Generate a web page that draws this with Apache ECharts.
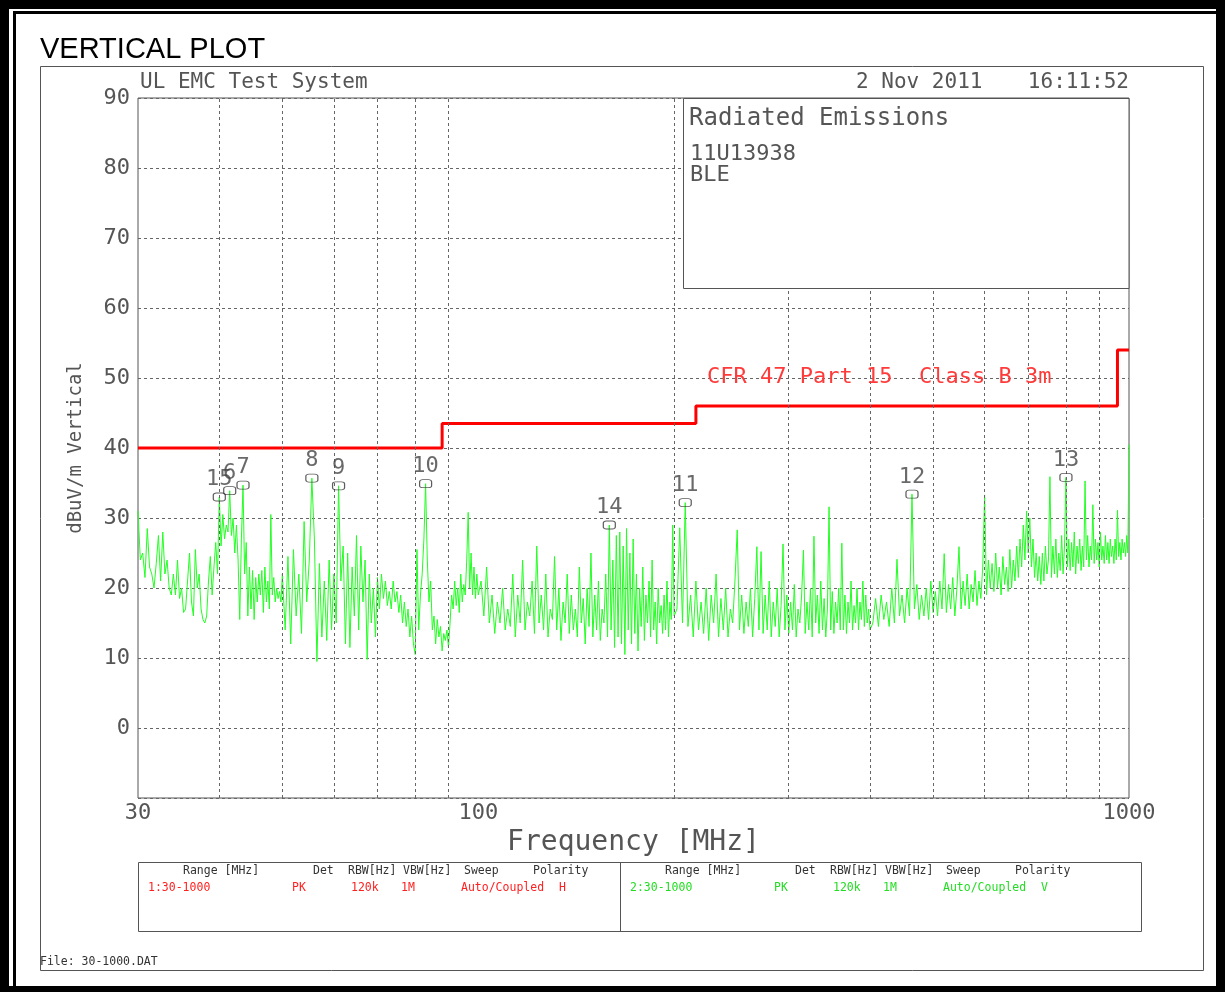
<!DOCTYPE html>
<html>
<head>
<meta charset="utf-8">
<script src="https://cdn.jsdelivr.net/npm/echarts@6/dist/echarts.min.js"></script>
<style>
html,body{margin:0;padding:0;background:#fff}
#wrap{position:relative;width:1225px;height:992px;background:#000;overflow:hidden}
.l{position:absolute}
#c{position:absolute;left:0;top:0;width:1225px;height:992px}
</style>
</head>
<body>
<div id="wrap">
  <div class="l" style="left:9px;top:9px;width:1207px;height:977px;background:#fff"></div>
  <div class="l" style="left:13px;top:11px;width:1203px;height:975px;background:#000"></div>
  <div class="l" style="left:16px;top:14px;width:1200px;height:972px;background:#fff"></div>
  <div id="c"></div>
</div>
<script>
// ---------------- DATA ----------------
// Sweep bands: start frequency [MHz], step [MHz], measured levels [dBuV/m]
const traceA_start = 30, traceA_step = 0.25;
const traceA_dB = [
  31, 24, 25, 21.5,
  28.5, 23, 22, 20,
  23.5, 27.5, 21, 28,
  22, 24, 20, 19,
  22, 19, 24, 18.5,
  20, 16.5, 17, 21,
  25, 18, 16, 25.5,
  20, 22, 17, 15.5,
  15, 16, 21, 24.5,
  19, 23, 26.5, 22,
  33, 26, 30.5, 27,
  29, 28, 33.9, 27.5,
  30, 25, 29, 24,
  15.5, 27, 34.7, 22,
  26.5, 16, 23, 17,
  22.5, 15.5, 21.5, 18,
  22, 19, 22.5, 16.5,
  23, 18, 21, 17,
  30.5, 19, 21.5, 18,
  20, 18.5, 19.5, 18,
  22
];
const traceB_start = 50.5, traceB_step = 0.5;
const traceB_dB = [
  14, 24.5, 12, 25.5, 16, 22, 13.5, 29.5, 18, 24,
  35.7, 27, 9.5, 23.5, 13, 21, 12.5, 24, 14, 22,
  15, 34.6, 21, 26, 12, 25, 11.5, 23, 16, 27.5,
  14, 26, 18, 24, 9.8, 22, 15, 20, 13, 21.5,
  17, 22, 18.5, 21, 17.5, 19.5, 17, 21, 18, 19.5,
  16.5, 19, 15, 18, 14.5, 17, 13, 16, 12, 10.5,
  25.5, 14, 19, 22, 27, 34.9, 24, 18, 21, 14,
  16, 12, 15.5, 13, 14.5, 11, 13.5, 12.5, 14, 11.5,
  15, 19, 17, 21, 17.5, 20, 16.5, 22, 18, 20.5,
  19, 24, 30.8, 20, 25, 19, 23, 18.5, 22, 19
];
const traceC_start = 101, traceC_step = 1;
const traceC_dB = [
  21, 16, 23, 15, 19, 13.5, 18, 15, 20, 14,
  17, 14.5, 22, 13, 19, 15, 24, 14, 18, 16,
  21, 13.5, 26, 15, 19, 14, 22, 13, 17, 15.5,
  24.5, 14, 20, 12.5, 18, 15, 22, 13.5, 19, 14,
  17, 13, 23, 15, 18.5, 12, 20, 14.5, 25, 13,
  19, 14, 21, 12.5, 17, 15, 22, 13, 29, 14,
  24, 11.5, 27.5, 13, 28, 12, 26, 10.5, 28.5, 14,
  25, 12, 27, 13.5, 22, 11, 20, 14.5, 23, 12.5,
  19, 15, 21, 13, 24, 14, 18, 12, 20, 15,
  17.5, 13.5, 19, 14, 21, 13, 18, 15.5, 29, 16
];
const traceD_start = 202, traceD_step = 2;
const traceD_dB = [
  17, 28.6, 15, 32.2, 14.5, 19, 13, 21, 14, 18,
  13.5, 20, 12.5, 19, 15, 22, 13, 18.5, 14, 20,
  13, 17, 15, 21, 28.3, 14, 19, 13.5, 18, 14.5,
  20, 13, 18.5, 25.9, 14, 25.2, 13.5, 19, 14, 21,
  13, 18, 14.5, 20, 13, 17.5, 26.3, 14, 19, 13.5,
  18, 14, 20.5, 13, 17, 15, 19, 25.4, 13.5, 18,
  14, 20, 13, 27.4, 15, 19, 13.5, 21, 14, 18.5,
  13, 17, 31.6, 14, 19.5, 13.5, 18, 15, 20, 14,
  26.4, 14, 19, 13.5, 18, 15, 21, 14, 17.5, 15,
  20, 14, 18, 15.5, 21, 14.5, 19, 15, 17, 14
];
const traceE_start = 404, traceE_step = 4;
const traceE_dB = [
  15, 18.5, 14.5, 19, 15.5, 18, 14.5, 20, 15, 24.1,
  16, 19, 15, 20, 16, 33.4, 17, 20.5, 15.5, 19,
  16, 20, 15.5, 21, 16.5, 19.5, 16, 21, 17, 24.9,
  16.5, 20.5, 17, 21.5, 16, 20, 25.9, 17, 21, 17.5,
  22, 17, 20.5, 18, 22.5, 17.5, 21, 18.5, 23, 33.3,
  19, 24, 20, 23.5, 19.5, 25, 20, 23, 19, 24.5,
  20.5, 23, 19.5, 25.5, 20, 24, 21, 26, 21.5, 27,
  23, 29, 24, 31, 25, 30, 23, 27, 21.5, 25,
  21, 24.5, 20.5, 25, 21, 26, 22, 24, 35.9, 21.5,
  26, 22, 27, 21.5, 25, 22.5, 27.5, 22, 26, 35.8,
  23, 27, 22.5, 26.5, 23, 28, 22, 26, 23.5, 27,
  22.5, 26, 23, 35.3, 24, 27.5, 23, 26, 24, 31.9,
  23.5, 27, 24, 26.5, 23, 28, 24, 26, 23.5, 27.5,
  24, 26.5, 23.5, 27, 24.5, 26, 23.5, 27, 24, 31.1,
  24.5, 26.5, 24, 27, 25, 26.5, 24.5, 27.5, 25, 40.5
];

// Limit line: CFR 47 Part 15 Class B 3m
const limitFreqs = [30, 88, 216, 960, 1000];
const limitLevels = [40, 43.5, 46, 54];

// Markers
const markerNames  = ['15', '6', '7', '8', '9', '10', '14', '11', '12', '13'];
const markerFreqs  = [40, 41.5, 43.5, 55.5, 61, 83, 159, 208, 464, 800];
const markerLevels = [33, 33.9, 34.7, 35.7, 34.6, 34.9, 29, 32.2, 33.4, 35.8];

// Grid frequencies (minor decade lines)
const gridFreqs = [40, 50, 60, 70, 80, 90, 200, 300, 400, 500, 600, 700, 800, 900];

// Table
const tableHeaders = ['Range [MHz]', 'Det', 'RBW[Hz]', 'VBW[Hz]', 'Sweep', 'Polarity'];
const traceRow1 = ['1:30-1000', 'PK', '120k', '1M', 'Auto/Coupled', 'H'];
const traceRow2 = ['2:30-1000', 'PK', '120k', '1M', 'Auto/Coupled', 'V'];

// ---------------- BUILD ----------------
const MONO = '"DejaVu Sans Mono", "Liberation Mono", monospace';
const INK = '#555';
const bands = [
  [traceA_start, traceA_step, traceA_dB],
  [traceB_start, traceB_step, traceB_dB],
  [traceC_start, traceC_step, traceC_dB],
  [traceD_start, traceD_step, traceD_dB],
  [traceE_start, traceE_step, traceE_dB]
];
const traceData = [];
bands.forEach(([s, st, arr]) => arr.forEach((v, i) => traceData.push([+(s + i * st).toFixed(3), v])));

const limitData = [];
limitLevels.forEach((lv, i) => {
  limitData.push([limitFreqs[i], lv]);
  limitData.push([limitFreqs[i + 1], lv]);
});

const markerData = markerFreqs.map((f, i) => ({ name: markerNames[i], value: [f, markerLevels[i]] }));

const hdrX1 = [183, 313, 348, 403, 464, 533];
const rowX1 = [148, 292, 351, 401, 461, 559];
const hdrX2 = [665, 795, 830, 885, 946, 1015];
const rowX2 = [630, 774, 833, 883, 943, 1041];

function txt(text, x, y, font, fill, align, z) {
  return { type: 'text', z: z || 50, silent: true,
    style: { text: text, x: x, y: y, font: font, fill: fill, textAlign: align || 'left', verticalAlign: 'middle', textVerticalAlign: 'middle' } };
}

const graphics = [
  { type: 'rect', z: 0, silent: true, shape: { x: 40.5, y: 66.5, width: 1163, height: 904 }, style: { fill: 'none', stroke: '#555', lineWidth: 1 } },
  { type: 'rect', z: 60, silent: true, shape: { x: 683.5, y: 98.5, width: 445.5, height: 190 }, style: { fill: '#fff', stroke: '#555', lineWidth: 1 } },
  { type: 'rect', z: 1, silent: true, shape: { x: 138.5, y: 862.5, width: 1003, height: 69 }, style: { fill: '#fff', stroke: '#555', lineWidth: 1 } },
  { type: 'line', z: 2, silent: true, shape: { x1: 620.5, y1: 862.5, x2: 620.5, y2: 931.5 }, style: { stroke: '#555', lineWidth: 1 } },
  txt('VERTICAL PLOT', 40, 50, '29px "Liberation Sans", Arial, sans-serif', '#000'),
  txt('UL EMC Test System', 140, 83, '21px ' + MONO, INK),
  txt('2 Nov 2011', 856, 83, '21px ' + MONO, INK),
  txt('16:11:52', 1129, 83, '21px ' + MONO, INK, 'right'),
  txt('Radiated Emissions', 689, 119, '24px ' + MONO, INK, 'left', 70),
  txt('11U13938', 690, 154, '22px ' + MONO, INK, 'left', 70),
  txt('BLE', 690, 175, '22px ' + MONO, INK, 'left', 70),
  txt('CFR 47 Part 15  Class B 3m', 707, 377, '22px ' + MONO, '#ff3a3a', 'left', 70),
  txt('File: 30-1000.DAT', 40, 962, '11.5px ' + MONO, '#333')
];
tableHeaders.forEach((h, i) => {
  graphics.push(txt(h, hdrX1[i], 871, '11.5px ' + MONO, '#333'));
  graphics.push(txt(h, hdrX2[i], 871, '11.5px ' + MONO, '#333'));
});
traceRow1.forEach((t, i) => graphics.push(txt(t, rowX1[i], 888, '11.5px ' + MONO, '#ff2020')));
traceRow2.forEach((t, i) => graphics.push(txt(t, rowX2[i], 888, '11.5px ' + MONO, '#22dd22')));

const chart = echarts.init(document.getElementById('c'), null, { renderer: 'canvas', width: 1225, height: 992 });
chart.setOption({
  animation: false,
  grid: { left: 138, top: 98, width: 991, height: 700, show: true, borderColor: '#555', borderWidth: 1, backgroundColor: 'transparent' },
  xAxis: {
    type: 'log', logBase: 10, min: 30, max: 1000,
    axisLine: { show: false }, axisTick: { show: false }, splitLine: { show: false },
    axisLabel: { formatter: v => String(Math.round(v)), fontFamily: MONO, fontSize: 22, color: INK, margin: 4, showMinLabel: true, showMaxLabel: true },
    name: 'Frequency [MHz]', nameLocation: 'middle', nameGap: 29,
    nameTextStyle: { fontFamily: MONO, fontSize: 28, color: INK }
  },
  yAxis: {
    type: 'value', min: -10, max: 90, interval: 10,
    axisLine: { show: false }, axisTick: { show: false },
    splitLine: { show: true, lineStyle: { type: [3, 3], color: '#666', width: 1 } },
    axisLabel: { formatter: v => (v === -10 ? '' : String(v)), fontFamily: MONO, fontSize: 22, color: INK, margin: 8 },
    name: 'dBuV/m Vertical', nameLocation: 'middle', nameGap: 52,
    nameTextStyle: { fontFamily: MONO, fontSize: 19, color: INK }
  },
  series: [
    {
      type: 'line', name: 'grid', data: [], z: 1, silent: true,
      markLine: {
        silent: true, symbol: ['none', 'none'], label: { show: false }, animation: false,
        lineStyle: { type: [3, 3], color: '#666', width: 1 },
        data: gridFreqs.map(f => ({ xAxis: f }))
      }
    },
    {
      type: 'line', name: 'Vertical', data: traceData, showSymbol: false, sampling: null, silent: true, z: 3,
      lineStyle: { color: '#22ff22', width: 1 }, itemStyle: { color: '#22ff22' }
    },
    {
      type: 'line', name: 'Limit', data: limitData, showSymbol: false, silent: true, z: 4,
      lineStyle: { color: '#ff0000', width: 3 }, itemStyle: { color: '#ff0000' }
    },
    {
      type: 'scatter', name: 'Markers', data: markerData, z: 5, silent: true,
      symbol: 'roundRect', symbolSize: [12, 8],
      itemStyle: { color: 'rgba(255,255,255,0)', borderColor: '#333', borderWidth: 1 },
      label: { show: true, position: 'top', distance: 2, formatter: p => p.name, fontFamily: MONO, fontSize: 22, color: '#444' }
    }
  ],
  graphic: graphics
});
</script>
</body>
</html>
